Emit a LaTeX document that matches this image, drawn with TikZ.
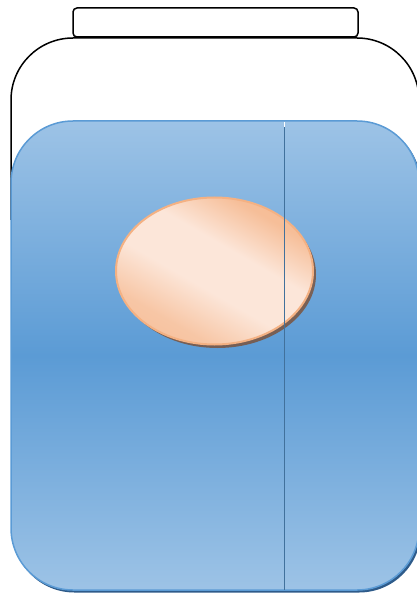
\documentclass[tikz,border=0pt]{standalone}
\usepackage{xcolor}
\usepackage{tikz}
\usetikzlibrary{shapes.geometric}
\definecolor{jarline}{HTML}{000000}
\definecolor{bluelite}{HTML}{9DC3E6}
\definecolor{bluemid}{HTML}{5B9BD5}
\definecolor{bluedeep}{HTML}{2E5B8A}
\definecolor{rule}{HTML}{41719C}
\definecolor{peachlite}{HTML}{FCE6D9}
\definecolor{peachdark}{HTML}{F4B183}
\definecolor{peachedge}{HTML}{F4B183}
\definecolor{umber}{HTML}{7F4A2A}
\pgfdeclarehorizontalshading{peachband}{100bp}{%
  color(0bp)=(peachdark); color(30bp)=(peachdark!60!peachlite);
  color(44bp)=(peachlite); color(58bp)=(peachlite);
  color(72bp)=(peachdark!75!peachlite); color(100bp)=(peachdark)}
\tikzset{
  outline/.style={draw=jarline,line width=1.5pt,fill=white},
  liquid/.style={draw=bluemid,line width=1.5pt,top color=bluelite,
    bottom color=bluelite,middle color=bluemid},
  pill/.style={ellipse,draw=peachedge,line width=2pt,shading=peachband,
    shading angle=60,minimum width=197pt,minimum height=147pt,inner sep=0pt},
  pillshadow/.style={ellipse,fill=umber,opacity=.75,minimum width=197pt,
    minimum height=147pt,inner sep=0pt},
}
\begin{document}
\begin{tikzpicture}[x=1pt,y=-1pt]
  \useasboundingbox (0,0) rectangle (416,593);
  % lid and jar body
  \draw[outline,rounded corners=4pt] (73,8) rectangle (358,37);
  \draw[outline,rounded corners=62pt] (11,220) -- (11,38) -- (419,38) -- (419,220);
  % liquid
  \fill[bluedeep,rounded corners=62pt] (12.5,123) rectangle (421,592.5);
  \path[liquid,rounded corners=62pt] (11,121) rectangle (419,590);
  % tablet
  \node[pillshadow] (shadow) at (217.5,274.5) {};
  \node[pill] (tablet) at (214.5,271) {};
  % level line
  \draw[white,line width=1pt] (284,122.5) -- (284,127);
  \draw[rule,line width=1pt] (284,127) -- (284,590);
\end{tikzpicture}
\end{document}
